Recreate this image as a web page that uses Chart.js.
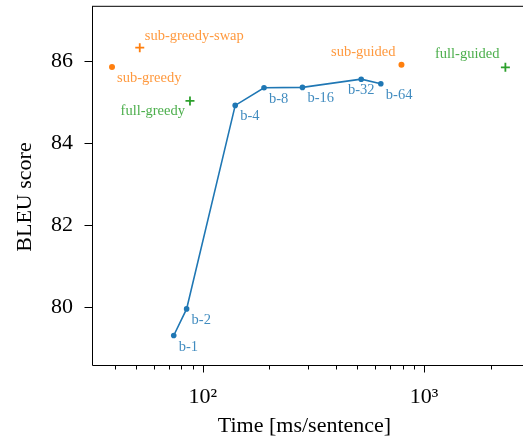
<!DOCTYPE html>
<html>
<head>
<meta charset="utf-8">
<script src="https://cdn.jsdelivr.net/npm/chart.js@4.4.0/dist/chart.umd.min.js"></script>
<style>
  html, body { margin: 0; padding: 0; background: #fff; overflow: hidden; }
  #wrap { width: 523px; height: 443px; }
  canvas { display: block; }
</style>
</head>
<body>
<div id="wrap"><canvas id="bleuChart" width="523" height="443"></canvas></div>
<script>
// beam search runs
const beamLabels = ["b-1", "b-2", "b-4", "b-8", "b-16", "b-32", "b-64"];
const beamTime = [73.8, 84.4, 140, 189, 282, 520, 638];
const beamBleu = [79.3, 79.95, 84.92, 85.35, 85.36, 85.56, 85.45];

// sub-model decoding
const subLabels = ["sub-greedy", "sub-guided"];
const subTime = [38.8, 791];
const subBleu = [85.86, 85.91];

const swapLabels = ["sub-greedy-swap"];
const swapTime = [51.8];
const swapBleu = [86.33];

// full model decoding
const fullLabels = ["full-greedy", "full-guided"];
const fullTime = [87.4, 2335];
const fullBleu = [85.03, 85.85];

const xTicks = [40, 50, 60, 70, 80, 90, 100, 200, 300, 400, 500, 600, 700, 800, 900, 1000, 2000];
const xTickLabels = { 100: "10²", 1000: "10³" };
const yTicks = [80, 82, 84, 86];

// where each label sits next to its marker
const beamPlace = ["br", "br", "br", "br", "br", "bc", "br"];
const subPlace = ["br", "al"];
const swapPlace = ["ar"];
const fullPlace = ["bl", "al"];

const serif = "'Liberation Serif', 'Times New Roman', serif";

function toPoints(xs, ys) {
  return xs.map((x, i) => ({ x: x, y: ys[i] }));
}

function noPad(s) {
  s.paddingTop = 0;
  s.paddingBottom = 0;
  s.paddingLeft = 0;
  s.paddingRight = 0;
}

const framePlugin = {
  id: "frame",
  afterDraw(chart) {
    const { ctx, chartArea: a, scales } = chart;
    const w = chart.width;
    ctx.save();
    // the axes run on past the right edge of the picture
    ctx.fillStyle = "#fff";
    ctx.fillRect(a.right - 3, a.top + 1, w - a.right + 3, a.bottom - a.top);
    ctx.strokeStyle = "#000";
    ctx.lineWidth = 1;
    ctx.beginPath();
    ctx.moveTo(a.left + 0.5, a.top);
    ctx.lineTo(a.left + 0.5, a.bottom + 0.5);
    ctx.lineTo(w, a.bottom + 0.5);
    ctx.moveTo(a.left, a.top);
    ctx.lineTo(w, a.top);
    ctx.stroke();

    // tick marks
    ctx.beginPath();
    xTicks.forEach(v => {
      const px = Math.round(scales.x.getPixelForValue(v)) + 0.5;
      const len = xTickLabels[v] ? 7 : 4;
      ctx.moveTo(px, a.bottom + 0.5);
      ctx.lineTo(px, a.bottom + 0.5 + len);
    });
    yTicks.forEach(v => {
      const py = Math.round(scales.y.getPixelForValue(v)) + 0.5;
      ctx.moveTo(a.left + 0.5, py);
      ctx.lineTo(a.left + 0.5 - 8, py);
    });
    ctx.stroke();

    // axis titles
    ctx.fillStyle = "#000";
    ctx.font = "22px " + serif;
    ctx.textAlign = "center";
    ctx.textBaseline = "alphabetic";
    ctx.fillText("Time [ms/sentence]", 304.5, 432);
    ctx.translate(31, 197);
    ctx.rotate(-Math.PI / 2);
    ctx.fillText("BLEU score", 0, 0);
    ctx.restore();
  }
};

const labelPlugin = {
  id: "pointLabels",
  afterDatasetsDraw(chart) {
    const ctx = chart.ctx;
    ctx.save();
    ctx.font = "14.5px " + serif;
    ctx.textBaseline = "alphabetic";
    chart.data.datasets.forEach((ds, di) => {
      const meta = chart.getDatasetMeta(di);
      ctx.fillStyle = ds.labelColor;
      meta.data.forEach((el, i) => {
        const p = ds.place[i];
        let dx = 5, dy = 15, align = "left";
        if (p === "bc") { dx = 0; align = "center"; }
        if (p === "bl") { dx = -5; dy = 14; align = "right"; }
        if (p === "ar") { dx = 5; dy = -8; }
        if (p === "al") { dx = -6; dy = -9; align = "right"; }
        ctx.textAlign = align;
        ctx.fillText(ds.names[i], el.x + dx, el.y + dy);
      });
    });
    ctx.restore();
  }
};

new Chart(document.getElementById("bleuChart"), {
  type: "scatter",
  data: {
    datasets: [
      {
        type: "line",
        data: toPoints(beamTime, beamBleu),
        names: beamLabels,
        place: beamPlace,
        labelColor: "rgba(31, 119, 180, 0.85)",
        borderColor: "#1f77b4",
        backgroundColor: "#1f77b4",
        borderWidth: 1.6,
        pointRadius: 2.8,
        pointBorderWidth: 0,
        tension: 0,
        fill: false
      },
      {
        data: toPoints(subTime, subBleu),
        names: subLabels,
        place: subPlace,
        labelColor: "rgba(255, 127, 14, 0.8)",
        backgroundColor: "#ff7f0e",
        borderColor: "#ff7f0e",
        pointRadius: 3,
        pointBorderWidth: 0
      },
      {
        data: toPoints(swapTime, swapBleu),
        names: swapLabels,
        place: swapPlace,
        labelColor: "rgba(255, 127, 14, 0.8)",
        pointStyle: "cross",
        borderColor: "#ff7f0e",
        pointRadius: 4.5,
        pointBorderWidth: 1.8
      },
      {
        data: toPoints(fullTime, fullBleu),
        names: fullLabels,
        place: fullPlace,
        labelColor: "rgba(44, 160, 44, 0.85)",
        pointStyle: "cross",
        borderColor: "#2ca02c",
        pointRadius: 4.5,
        pointBorderWidth: 1.8
      }
    ]
  },
  options: {
    responsive: false,
    animation: false,
    devicePixelRatio: 1,
    layout: { padding: { top: 5, right: 0, left: 0, bottom: 0 } },
    plugins: {
      legend: { display: false },
      tooltip: { enabled: false }
    },
    scales: {
      x: {
        type: "logarithmic",
        min: 31.5,
        max: 2627,
        grid: { display: false, drawTicks: false },
        border: { display: false },
        afterBuildTicks: s => { s.ticks = xTicks.map(v => ({ value: v })); },
        afterFit: s => { s.height = 78; noPad(s); },
        ticks: {
          autoSkip: false,
          maxRotation: 0,
          padding: 19,
          color: "#000",
          font: { family: serif, size: 22 },
          callback: v => xTickLabels[v] || ""
        }
      },
      y: {
        min: 78.58,
        max: 87.34,
        grid: { display: false, drawTicks: false },
        border: { display: false },
        afterBuildTicks: s => { s.ticks = yTicks.map(v => ({ value: v })); },
        afterFit: s => { s.width = 92; noPad(s); },
        ticks: {
          padding: 19,
          color: "#000",
          font: { family: serif, size: 22 },
          callback: v => v
        }
      }
    }
  },
  plugins: [framePlugin, labelPlugin]
});
</script>
</body>
</html>
